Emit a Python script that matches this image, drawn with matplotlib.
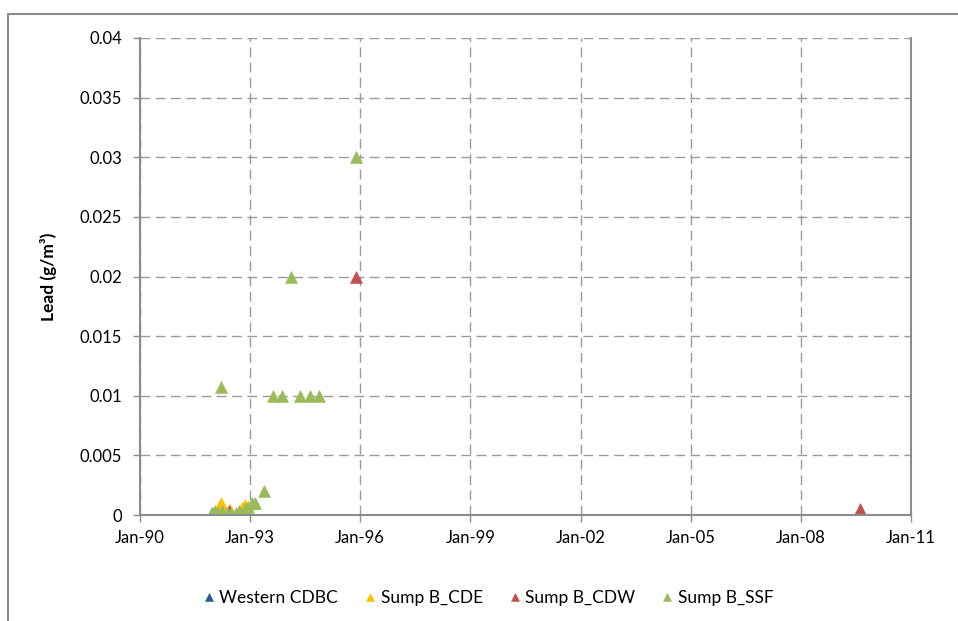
import datetime as dt
import matplotlib
matplotlib.use('Agg')
import matplotlib.pyplot as plt
import matplotlib.dates as mdates
from matplotlib.patches import Rectangle

plt.rcParams['font.family'] = ['Lato', 'DejaVu Sans']

def d(y, m, day=15):
    return dt.datetime(y, m, day)

# lead concentrations (g/m3) per sampling location
cdbc_dates = [d(1991, 12), d(1992, 3), d(1992, 6)]
cdbc_vals = [0.0002, 0.0002, 0.0002]

cde_dates = [d(1992, 3), d(1992, 6), d(1992, 10), d(1992, 11)]
cde_vals = [0.001, 0.0004, 0.0006, 0.0008]

cdw_dates = [d(1992, 6, 5), d(1995, 11), d(2009, 8), d(2009, 8, 20)]
cdw_vals = [0.0003, 0.02, 0.0005, 0.0002]

ssf_dates = [d(1991, 12), d(1992, 1), d(1992, 2), d(1992, 3, 25), d(1992, 5),
             d(1992, 6, 25), d(1992, 8), d(1992, 9), d(1992, 11),
             d(1992, 12), d(1993, 1), d(1993, 2), d(1993, 5),
             d(1992, 3), d(1993, 8), d(1993, 11), d(1994, 2),
             d(1994, 5), d(1994, 8), d(1994, 11), d(1995, 11)]
ssf_vals = [0.0002, 0.0003, 0.0002, 0.0003, 0.0002,
            0.0002, 0.0002, 0.0003, 0.0005,
            0.0007, 0.001, 0.001, 0.002,
            0.0107, 0.01, 0.01, 0.02,
            0.01, 0.01, 0.01, 0.03]

tick_years = [1990, 1993, 1996, 1999, 2002, 2005, 2008, 2011]

series = [
    ('Western CDBC', cdbc_dates, cdbc_vals, '#1F5C99'),
    ('Sump B_CDE', cde_dates, cde_vals, '#FFC000'),
    ('Sump B_CDW', cdw_dates, cdw_vals, '#C0504D'),
    ('Sump B_SSF', ssf_dates, ssf_vals, '#9BBB59'),
]

W, H = 958, 621
fig = plt.figure(figsize=(W / 100, H / 100), dpi=100)
ax = fig.add_axes([140 / W, 1 - 515 / H, (911 - 140) / W, (515 - 38) / H])

# outer chart frame
fig.patches.append(Rectangle((8 / W, -0.1), 1.2, 1 - 14 / H + 0.1,
                             transform=fig.transFigure, fill=False,
                             edgecolor='#8C8C8C', linewidth=1.5))

for name, xs, ys, col in series:
    ax.plot(xs, ys, linestyle='none', marker='^', markersize=8.5,
            color=col, markeredgecolor=col, markeredgewidth=0.4, label=name)

ax.set_xlim(dt.datetime(1990, 1, 1), dt.datetime(2011, 1, 1))
ax.set_ylim(0, 0.04)
ax.set_yticks([0, 0.005, 0.01, 0.015, 0.02, 0.025, 0.03, 0.035, 0.04])
ax.set_yticklabels(['0', '0.005', '0.01', '0.015', '0.02', '0.025', '0.03', '0.035', '0.04'])
ax.set_xticks([dt.datetime(y, 1, 1) for y in tick_years])
ax.xaxis.set_major_formatter(mdates.DateFormatter('%b-%y'))

ax.grid(True, color='#9A9A9A', linestyle=(0, (7, 4)), linewidth=1)
ax.set_axisbelow(True)
ax.spines['top'].set_visible(False)
for s in ['left', 'bottom', 'right']:
    ax.spines[s].set_color('#8C8C8C')
    ax.spines[s].set_linewidth(1.5)
ax.tick_params(axis='both', colors='#8C8C8C', labelcolor='black', labelsize=12,
               length=5, width=1)
ax.tick_params(axis='y', pad=8)
ax.tick_params(axis='x', pad=6)

ax.set_ylabel('Lead (g/m³)', fontsize=12.5, fontweight='bold', labelpad=16)

fig.legend(loc='center', bbox_to_anchor=(489 / W, 1 - 598 / H), ncol=4,
           frameon=False, fontsize=12.5, handlelength=0.5, handletextpad=0.35,
           columnspacing=1.6, markerscale=0.75)

fig.savefig('out.png', dpi=100)
